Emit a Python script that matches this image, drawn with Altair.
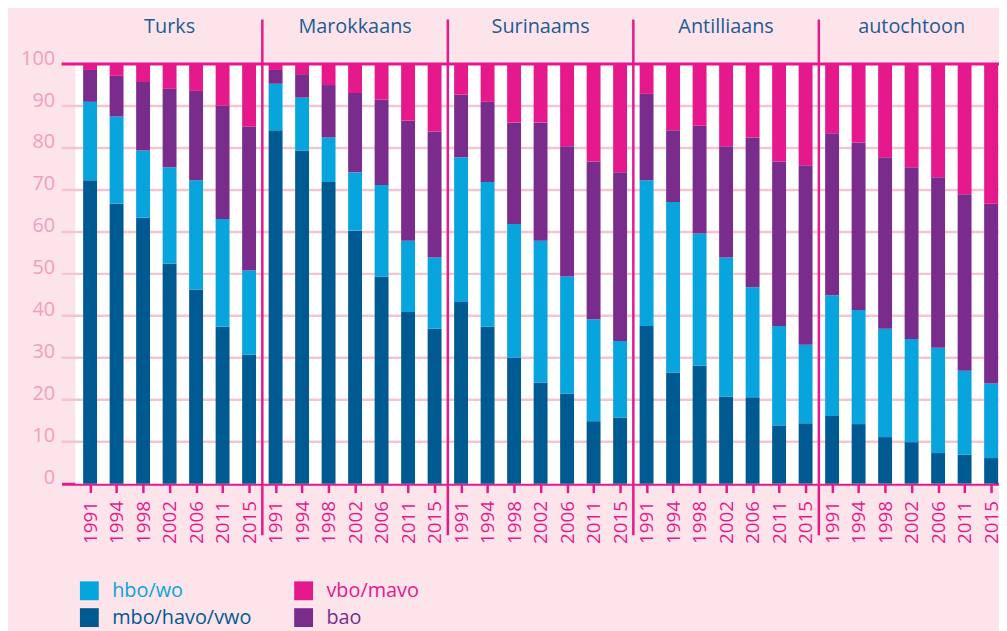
import altair as alt
import pandas as pd

groups = ["Turks", "Marokkaans", "Surinaams", "Antilliaans", "autochtoon"]
years = ["1991", "1994", "1998", "2002", "2006", "2011", "2015"]

# stacked from bottom to top
levels = ["mbo/havo/vwo", "hbo/wo", "bao", "vbo/mavo"]
# legend fills column by column
legend_order = ["hbo/wo", "mbo/havo/vwo", "vbo/mavo", "bao"]
level_colors = {"hbo/wo": "#08a4de", "vbo/mavo": "#e5198b",
                "mbo/havo/vwo": "#005a92", "bao": "#7a2c8d"}

mbo_havo_vwo = [72.3, 66.7, 63.4, 52.5, 46.3, 37.4, 30.7,
                84.2, 79.4, 71.9, 60.3, 49.4, 40.9, 36.9,
                43.3, 37.4, 30.0, 24.1, 21.5, 14.9, 15.8,
                37.6, 26.5, 28.1, 20.8, 20.6, 13.9, 14.4,
                16.1, 14.2, 11.1, 9.9, 7.3, 6.9, 6.1]
hbo_wo = [18.7, 20.8, 16.0, 22.9, 26.0, 25.7, 20.1,
          11.1, 12.6, 10.6, 13.9, 21.8, 17.0, 17.0,
          34.5, 34.5, 31.9, 33.8, 27.9, 24.3, 18.2,
          34.7, 40.6, 31.5, 33.1, 26.2, 23.7, 18.7,
          28.8, 27.2, 25.8, 24.6, 25.1, 20.0, 17.8]
bao = [7.6, 9.7, 16.3, 18.7, 21.3, 27.0, 34.3,
       3.3, 5.6, 12.5, 18.9, 20.3, 28.6, 30.0,
       14.9, 19.1, 24.2, 28.2, 31.0, 37.6, 40.2,
       20.6, 17.1, 25.7, 26.5, 35.7, 39.2, 42.8,
       38.6, 39.9, 40.9, 40.9, 40.6, 42.1, 42.8]
vbo_mavo = [1.4, 2.8, 4.3, 5.9, 6.4, 9.9, 14.9,
            1.4, 2.4, 5.0, 6.9, 8.5, 13.5, 16.1,
            7.3, 9.0, 13.9, 13.9, 19.6, 23.2, 25.8,
            7.1, 15.8, 14.7, 19.6, 17.5, 23.2, 24.1,
            16.5, 18.7, 22.2, 24.6, 27.0, 31.0, 33.3]
series = [mbo_havo_vwo, hbo_wo, bao, vbo_mavo]
grid_values = [10, 20, 30, 40, 50, 60, 70, 80, 90]

MAG = "#e5198b"
FONT = "Open Sans"
n = len(years)
nbars = len(groups) * n

rows = []
for gi, g in enumerate(groups):
    for yi, yr in enumerate(years):
        k = gi * n + yi
        for li, (lev, arr) in enumerate(zip(levels, series)):
            rows.append(dict(idx=k, group=g, year=yr, level=lev,
                             stackorder=li, value=arr[k]))
df = pd.DataFrame(rows)

# headers sit above the 100 line, panel separators run past both axes
hdr = pd.DataFrame({"group": groups,
                    "c": [gi * n + (n - 1) / 2 for gi in range(len(groups))],
                    "h": [107.3] * len(groups)})
div = pd.DataFrame({"d": [gi * n + n - 0.5 for gi in range(len(groups) - 1)],
                    "ya": [-12.3] * (len(groups) - 1),
                    "yb": [110.6] * (len(groups) - 1)})
grid_df = pd.DataFrame({"g": grid_values})

xmin = -0.5 - 10.5 / 27
xmax = xmin + 35
xscale = alt.Scale(domain=[xmin, xmax], nice=False, zero=False)
yscale = alt.Scale(domain=[0, 100], nice=False, zero=False)

year_expr = "".join("(datum.value %% %d) == %d ? '%s' : " % (n, i, y)
                    for i, y in enumerate(years)) + "''"
color_expr = "".join("datum.label == '%s' ? '%s' : " % (k, v)
                     for k, v in level_colors.items()) + "'#005a92'"

bg_df = pd.DataFrame({"xa": [-0.5 - 1.5 / 27], "xb": [xmax], "ya": [0], "yb": [100]})
top_df = pd.DataFrame({"t": [100]})

bg = alt.Chart(bg_df).mark_rect(color="white").encode(
    x=alt.X("xa:Q", scale=xscale), x2="xb:Q",
    y=alt.Y("ya:Q", scale=yscale), y2="yb:Q",
)

grid = alt.Chart(grid_df).mark_rule(color="#f3c5d1", strokeWidth=2.5).encode(
    y=alt.Y("g:Q", scale=yscale)
)

bars = alt.Chart(df).mark_bar(size=14).encode(
    x=alt.X("idx:Q", scale=xscale, title=None,
            axis=alt.Axis(values=list(range(nbars)), tickCount=nbars,
                          labelExpr=year_expr,
                          labelAngle=270, labelAlign="right", labelBaseline="middle",
                          tickSize=9, tickWidth=2.5, tickColor=MAG,
                          domainColor=MAG, domainWidth=3, labelColor=MAG,
                          labelFontSize=19, labelFont=FONT, labelPadding=8,
                          labelOverlap=False, grid=False)),
    y=alt.Y("value:Q", stack="zero", scale=yscale, title=None,
            axis=alt.Axis(values=list(range(0, 101, 10)), domain=False, ticks=False,
                          grid=False, labelColor="#f29fbb", labelFontSize=20,
                          labelFont=FONT, labelPadding=7, labelBaseline="alphabetic")),
    color=alt.Color("level:N",
                    scale=alt.Scale(domain=legend_order,
                                    range=[level_colors[l] for l in legend_order]),
                    legend=alt.Legend(orient="none", legendX=18, legendY=521,
                                      columns=2, title=None, symbolType="square",
                                      symbolSize=361, symbolStrokeWidth=0,
                                      labelFontSize=20, labelFont=FONT, labelOffset=13,
                                      columnPadding=42, rowPadding=7,
                                      labelColor=alt.ExprRef(expr=color_expr))),
    order=alt.Order("stackorder:Q"),
)

top = alt.Chart(top_df).mark_rule(color=MAG, strokeWidth=3).encode(
    y=alt.Y("t:Q", scale=yscale)
)

dividers = alt.Chart(div).mark_rule(color=MAG, strokeWidth=2.5).encode(
    x=alt.X("d:Q", scale=xscale),
    y=alt.Y("ya:Q", scale=yscale),
    y2="yb:Q",
)

headers = alt.Chart(hdr).mark_text(font=FONT, fontSize=20, color="#1d5b94",
                                   baseline="alphabetic", align="center").encode(
    x=alt.X("c:Q", scale=xscale),
    y=alt.Y("h:Q", scale=yscale),
    text="group:N",
)

chart = alt.layer(bg, grid, bars, top, dividers, headers).properties(
    width=945, height=423,
    padding={"left": 54, "top": 54, "right": 0, "bottom": 146},
    autosize=alt.AutoSizeParams(type="none"),
).configure(background="#fde4ea").configure_view(stroke=None)

chart.save("out.html", embed_options={"renderer": "svg", "actions": False})
